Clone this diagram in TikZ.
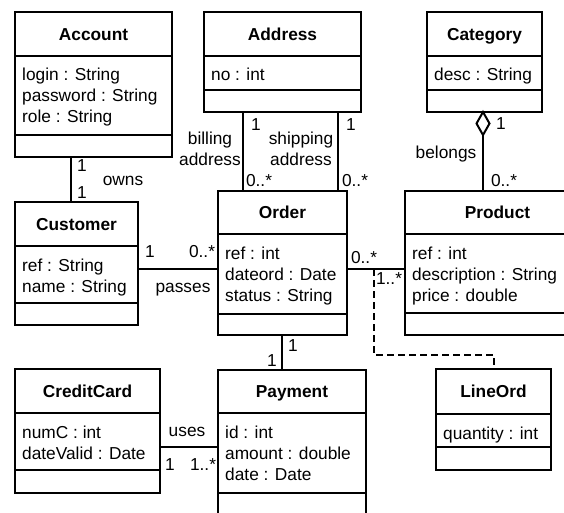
\documentclass[tikz,border=0pt]{standalone}
\usepackage{fontspec}
\setmainfont{Liberation Sans}
\tikzset{
  classbox/.style={draw, line width=2pt, inner sep=0pt, outer sep=0pt},
  ttl/.style={font=\fontsize{17.3}{21}\selectfont\bfseries, inner sep=0pt, text height=12.4pt, text depth=0pt},
  attr/.style={anchor=base west, inner sep=0pt},
  lbl/.style={inner sep=0pt, text height=12.4pt, text depth=0pt},
  assoc/.style={line width=2pt},
  dashedassoc/.style={line width=2pt, dash pattern=on 7pt off 4pt},
  every node/.append style={font=\fontsize{17.3}{21}\selectfont},
}
\newcommand\umlclass[9]{%
  \node[classbox, anchor=north west, minimum width={#4-#2}, minimum height={#5-#3}] (#1) at (#2,#3) {};
  \draw[line width=2pt] (#2,#6) -- (#4,#6);
  \draw[line width=2pt] (#2,#7) -- (#4,#7);
  \node[ttl] (#1-title) at ({(#2+#4)/2},{(#3+#6)/2}) {#8};
  \foreach \attr [count=\k] in {#9} {\node[attr] (#1-a\k) at ({#2+7},{#6+25+21*(\k-1)}) {\attr};}
}
\begin{document}
\begin{tikzpicture}[x=1pt,y=-1pt]
\useasboundingbox (0,0) rectangle (564,513);
\clip (0,0) rectangle (564,513);
\fill[white] (0,0) rectangle (564,513);

\umlclass{account}{15}{12}{172}{157}{56}{135}{Account}{login : String, password : String, role : String}
\umlclass{address}{204}{12}{361}{112}{56}{90}{Address}{no : int}
\umlclass{category}{427}{12}{542}{112}{56}{90}{Category}{desc : String}
\umlclass{customer}{15}{202}{138}{325}{246}{303}{Customer}{ref : String, name : String}
\umlclass{order}{218}{191}{347}{335}{234}{314}{Order}{ref : int, dateord : Date, status : String}
\umlclass{product}{405}{191}{590}{335}{234}{313}{Product}{ref : int, description : String, price : double}
\umlclass{creditcard}{15}{369}{160}{493}{413}{470}{CreditCard}{numC : int, dateValid : Date}
\umlclass{payment}{218}{370}{366}{540}{413}{493}{Payment}{id : int, amount : double, date : Date}
\umlclass{lineord}{436}{369}{551}{470}{414}{447}{LineOrd}{quantity : int}

% helper coordinates
\coordinate (xowns) at (71,0);
\coordinate (xbill) at (243,0);
\coordinate (xship) at (338,0);
\coordinate (xcat) at (483,0);
\coordinate (ypass) at (0,269);
\coordinate (xpay) at (282,0);
\coordinate (yuses) at (0,447);
\coordinate (dA) at (374,269);
\coordinate (dB) at (494,355);

% connectors
\draw[assoc] (account.south -| xowns) -- (customer.north -| xowns);
\draw[assoc] (address.south -| xbill) -- (order.north -| xbill);
\draw[assoc] (address.south -| xship) -- (order.north -| xship);
\draw[assoc, line join=miter] (category.south -| xcat) coordinate (dtop) -- ++(6.5,11.5) -- ++(-6.5,11.5) coordinate (dbot) -- ++(-6.5,-11.5) -- cycle;
\draw[assoc] (dbot) -- (product.north -| xcat);
\draw[assoc] (customer.east |- ypass) -- (order.west |- ypass);
\draw[assoc] (order.east |- ypass) -- (product.west |- ypass);
\draw[dashedassoc] (dA) |- (dB) -- (lineord.north -| dB);
\draw[assoc] (order.south -| xpay) -- (payment.north -| xpay);
\draw[assoc] (creditcard.east |- yuses) -- (payment.west |- yuses);

% labels
\node[lbl] (l1) at (82,165) {1};
\node[lbl] (l2) at (82,192) {1};
\node[lbl] (l3) at (123,179) {owns};
\node[lbl] (l4) at (210,138) {billing};
\node[lbl] (l5) at (210,159) {address};
\node[lbl] (l6) at (256,124) {1};
\node[lbl] (l7) at (259,180) {0..*};
\node[lbl] (l8) at (301,138) {shipping};
\node[lbl] (l9) at (301,159) {address};
\node[lbl] (l10) at (351,124) {1};
\node[lbl] (l11) at (355,180) {0..*};
\node[lbl] (l12) at (501,123) {1};
\node[lbl] (l13) at (446,152) {belongs};
\node[lbl] (l14) at (504,180) {0..*};
\node[lbl] (l15) at (150,251) {1};
\node[lbl] (l16) at (202,251) {0..*};
\node[lbl] (l17) at (183,286) {passes};
\node[lbl] (l18) at (364,257) {0..*};
\node[lbl] (l19) at (389,278) {1..*};
\node[lbl] (l20) at (293,345) {1};
\node[lbl] (l21) at (272,360) {1};
\node[lbl] (l22) at (187,430) {uses};
\node[lbl] (l23) at (170,464) {1};
\node[lbl] (l24) at (203,464) {1..*};
\end{tikzpicture}
\end{document}
